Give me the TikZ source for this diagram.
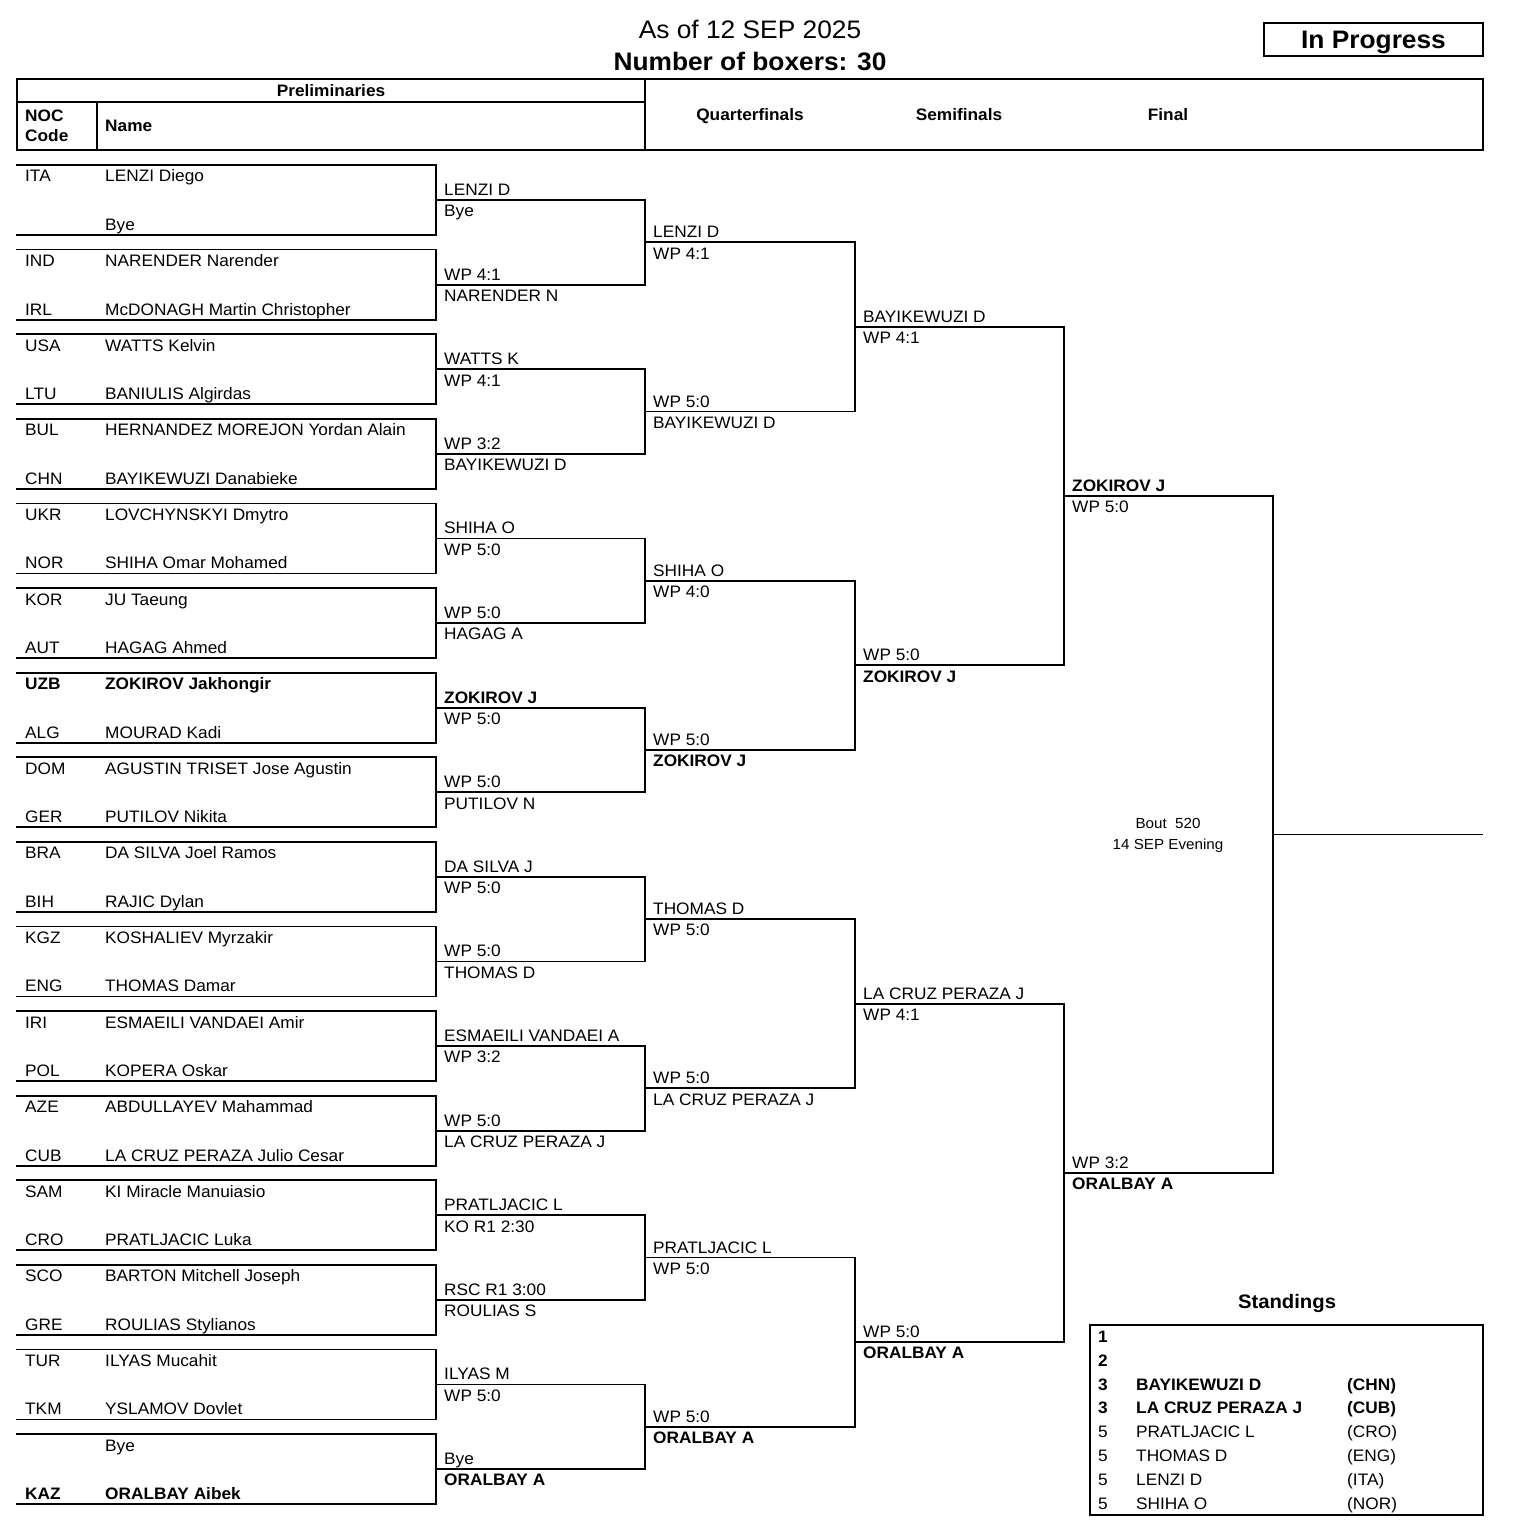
\documentclass[tikz,border=0pt]{standalone}
\usepackage{fontspec}
\setmainfont{Liberation Sans}[FakeStretch=1.04]
\newcommand\bodyf{\fontsize{16.6}{19}\selectfont}
\newcommand\titlef{\fontsize{25.3}{29}\selectfont}
\newcommand\boutf{\fontsize{14.6}{17}\selectfont}
\newcommand\standf{\fontsize{19.5}{22}\selectfont}
\tikzset{
  bline/.style={line width=1.8pt, line cap=rect},
  frame/.style={line width=1.8pt},
  txt/.style={inner sep=0pt, anchor=base west, font=\bodyf},
  btxt/.style={inner sep=0pt, anchor=base west, font=\bodyf\bfseries},
  ctxt/.style={inner sep=0pt, anchor=base, font=\bodyf\bfseries},
}
% prelim box: #1 top y, #2 noc a, #3 name a, #4 noc b, #5 name b, #6 id
\newcommand\pbox[6]{%
  \draw[bline] (17,#1) -- (436,#1) -- (436,#1+70) -- (17,#1+70);
  \node[txt] (#6na) at (25,#1+17) {#2};
  \node[txt] (#6ma) at (105,#1+17) {#3};
  \node[txt] (#6nb) at (25,#1+65.5) {#4};
  \node[txt] (#6mb) at (105,#1+65.5) {#5};
}
% bracket match: #1 xs, #2 xe, #3 yu, #4 yl, #5..#8 labels, #9 id
\newcommand\bmatch[9]{%
  \coordinate (#9a) at (#1,#3);
  \coordinate (#9b) at (#2,#3);
  \coordinate (#9c) at (#2,#4);
  \coordinate (#9d) at (#1,#4);
  \draw[bline] (#9a) -- (#9b) -- (#9c) -- (#9d);
  \node[txt] (#9un) at (#1+8,#3-4.5) {#5};
  \node[txt] (#9ur) at (#1+8,#3+16.8) {#6};
  \node[txt] (#9lr) at (#1+8,#4-4.5) {#7};
  \node[txt] (#9ln) at (#1+8,#4+16.8) {#8};
}
\begin{document}
\begin{tikzpicture}[x=1pt,y=-1pt]
\useasboundingbox (0,0) rectangle (1514,1538);
\fill[white] (0,0) rectangle (1514,1538);

% titles
\node[inner sep=0pt, anchor=base, font=\titlef] (t1) at (750,38.5) {As of 12 SEP 2025};
\node[inner sep=0pt, anchor=base, font=\titlef\bfseries] (t2) at (750,70.5) {Number of boxers: 30};
\draw[frame] (1264,23) rectangle (1483,56);
\node[inner sep=0pt, anchor=base, font=\titlef\bfseries] (prog) at (1373.5,48.5) {In Progress};

% header table
\draw[frame] (17,79) rectangle (1483,150);
\draw[frame] (645,79) -- (645,150);
\draw[frame] (17,102) -- (645,102);
\draw[frame] (97,102) -- (97,150);
\node[ctxt] (hpre) at (331,96.5) {Preliminaries};
\node[btxt] (hnoc) at (25,122) {NOC};
\node[btxt] (hcode) at (25,142) {Code};
\node[btxt] (hname) at (105,131.5) {Name};
\node[ctxt] (hqf) at (750,121) {Quarterfinals};
\node[ctxt] (hsf) at (959,121) {Semifinals};
\node[ctxt] (hf) at (1168,121) {Final};

% preliminaries
\pbox{165.0}{ITA}{LENZI Diego}{}{Bye}{p0}
\pbox{249.6}{IND}{NARENDER Narender}{IRL}{McDONAGH Martin Christopher}{p1}
\pbox{334.2}{USA}{WATTS Kelvin}{LTU}{BANIULIS Algirdas}{p2}
\pbox{418.8}{BUL}{HERNANDEZ MOREJON Yordan Alain}{CHN}{BAYIKEWUZI Danabieke}{p3}
\pbox{503.4}{UKR}{LOVCHYNSKYI Dmytro}{NOR}{SHIHA Omar Mohamed}{p4}
\pbox{588.0}{KOR}{JU Taeung}{AUT}{HAGAG Ahmed}{p5}
\pbox{672.6}{\textbf{UZB}}{\textbf{ZOKIROV Jakhongir}}{ALG}{MOURAD Kadi}{p6}
\pbox{757.2}{DOM}{AGUSTIN TRISET Jose Agustin}{GER}{PUTILOV Nikita}{p7}
\pbox{841.8}{BRA}{DA SILVA Joel Ramos}{BIH}{RAJIC Dylan}{p8}
\pbox{926.4}{KGZ}{KOSHALIEV Myrzakir}{ENG}{THOMAS Damar}{p9}
\pbox{1011.0}{IRI}{ESMAEILI VANDAEI Amir}{POL}{KOPERA Oskar}{p10}
\pbox{1095.6}{AZE}{ABDULLAYEV Mahammad}{CUB}{LA CRUZ PERAZA Julio Cesar}{p11}
\pbox{1180.2}{SAM}{KI Miracle Manuiasio}{CRO}{PRATLJACIC Luka}{p12}
\pbox{1264.8}{SCO}{BARTON Mitchell Joseph}{GRE}{ROULIAS Stylianos}{p13}
\pbox{1349.4}{TUR}{ILYAS Mucahit}{TKM}{YSLAMOV Dovlet}{p14}
\pbox{1434.0}{}{Bye}{\textbf{KAZ}}{\textbf{ORALBAY Aibek}}{p15}

% round 1
\bmatch{436}{645}{200.0}{284.6}{LENZI D}{Bye}{WP 4:1}{NARENDER N}{ra}
\bmatch{436}{645}{369.2}{453.8}{WATTS K}{WP 4:1}{WP 3:2}{BAYIKEWUZI D}{rb}
\bmatch{436}{645}{538.4}{623.0}{SHIHA O}{WP 5:0}{WP 5:0}{HAGAG A}{rc}
\bmatch{436}{645}{707.6}{792.2}{\textbf{ZOKIROV J}}{WP 5:0}{WP 5:0}{PUTILOV N}{rd}
\bmatch{436}{645}{876.8}{961.4}{DA SILVA J}{WP 5:0}{WP 5:0}{THOMAS D}{re}
\bmatch{436}{645}{1046.0}{1130.6}{ESMAEILI VANDAEI A}{WP 3:2}{WP 5:0}{LA CRUZ PERAZA J}{rf}
\bmatch{436}{645}{1215.2}{1299.8}{PRATLJACIC L}{KO R1 2:30}{RSC R1 3:00}{ROULIAS S}{rg}
\bmatch{436}{645}{1384.4}{1469.0}{ILYAS M}{WP 5:0}{Bye}{\textbf{ORALBAY A}}{rh}

% quarterfinals
\bmatch{645}{855}{242.3}{411.5}{LENZI D}{WP 4:1}{WP 5:0}{BAYIKEWUZI D}{qa}
\bmatch{645}{855}{580.7}{749.9}{SHIHA O}{WP 4:0}{WP 5:0}{\textbf{ZOKIROV J}}{qb}
\bmatch{645}{855}{919.1}{1088.3}{THOMAS D}{WP 5:0}{WP 5:0}{LA CRUZ PERAZA J}{qc}
\bmatch{645}{855}{1257.5}{1426.7}{PRATLJACIC L}{WP 5:0}{WP 5:0}{\textbf{ORALBAY A}}{qd}

% semifinals
\bmatch{855}{1064}{326.9}{665.3}{BAYIKEWUZI D}{WP 4:1}{WP 5:0}{\textbf{ZOKIROV J}}{sa}
\bmatch{855}{1064}{1003.7}{1342.1}{LA CRUZ PERAZA J}{WP 4:1}{WP 5:0}{\textbf{ORALBAY A}}{sb}

% final
\bmatch{1064}{1273}{496.1}{1172.9}{\textbf{ZOKIROV J}}{WP 5:0}{WP 3:2}{\textbf{ORALBAY A}}{fa}
\coordinate (wa) at (1273,834.5);
\coordinate (wb) at (1482,834.5);
\draw[bline] (wa) -- (wb);
\node[inner sep=0pt, anchor=base, font=\boutf] (bout1) at (1168,828) {Bout\ \ 520};
\node[inner sep=0pt, anchor=base, font=\boutf] (bout2) at (1168,849) {14 SEP Evening};

% standings
\node[inner sep=0pt, anchor=base, font=\standf\bfseries] (stt) at (1287,1308) {Standings};
\draw[line width=2.2pt] (1090,1325) rectangle (1483,1515);
\node[btxt] (s1n) at (1098,1342) {1};
\node[btxt] (s2n) at (1098,1366) {2};
\node[btxt] (s3n) at (1098,1390) {3};
\node[btxt] (s3m) at (1136,1390) {BAYIKEWUZI D};
\node[btxt] (s3c) at (1347,1390) {(CHN)};
\node[btxt] (s4n) at (1098,1413.5) {3};
\node[btxt] (s4m) at (1136,1413.5) {LA CRUZ PERAZA J};
\node[btxt] (s4c) at (1347,1413.5) {(CUB)};
\node[txt] (s5n) at (1098,1437.5) {5};
\node[txt] (s5m) at (1136,1437.5) {PRATLJACIC L};
\node[txt] (s5c) at (1347,1437.5) {(CRO)};
\node[txt] (s6n) at (1098,1461.5) {5};
\node[txt] (s6m) at (1136,1461.5) {THOMAS D};
\node[txt] (s6c) at (1347,1461.5) {(ENG)};
\node[txt] (s7n) at (1098,1485.5) {5};
\node[txt] (s7m) at (1136,1485.5) {LENZI D};
\node[txt] (s7c) at (1347,1485.5) {(ITA)};
\node[txt] (s8n) at (1098,1509) {5};
\node[txt] (s8m) at (1136,1509) {SHIHA O};
\node[txt] (s8c) at (1347,1509) {(NOR)};
\end{tikzpicture}
\end{document}
